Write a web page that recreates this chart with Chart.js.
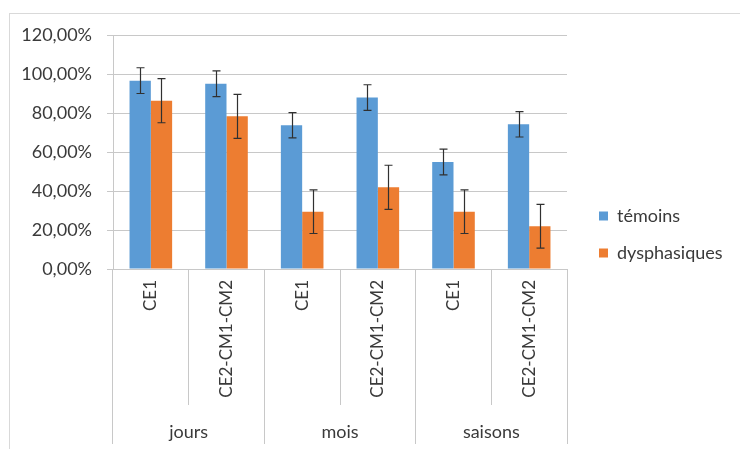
<!DOCTYPE html>
<html>
<head>
<meta charset="utf-8">
<script src="https://cdn.jsdelivr.net/npm/chart.js@4.4.1/dist/chart.umd.min.js"></script>
<style>
  html, body { margin: 0; padding: 0; background: #fff; }
  #wrap { position: relative; width: 741px; height: 449px; }
  #frame {
    position: absolute; left: 9px; top: 13px; right: 1px; bottom: 0;
    border-top: 1px solid #d9d9d9; border-left: 1px solid #d9d9d9;
  }
  canvas { position: absolute; left: 0; top: 0; }
</style>
</head>
<body>
<div id="wrap">
  <div id="frame"></div>
  <canvas id="chart" width="741" height="449"></canvas>
</div>
<script>
// niveaux (ligne 1 de l'axe) et groupes (ligne 2)
const niveaux = ["CE1", "CE2-CM1-CM2", "CE1", "CE2-CM1-CM2", "CE1", "CE2-CM1-CM2"];
const groupes = ["jours", "mois", "saisons"];

// valeurs en %
const temoins = [96.6, 95.0, 73.7, 87.9, 54.9, 74.2];
const temoinsErr = [6.6, 6.6, 6.5, 6.6, 6.6, 6.5];
const dysphasiques = [86.3, 78.3, 29.4, 41.9, 29.4, 21.9];
const dysphasiquesErr = [11.3, 11.3, 11.2, 11.3, 11.2, 11.2];

const TXT = "#3a3a3a";
const GRID = "#c8c8c8";
const FONT = "Lato";

const errBars = {
  id: "errBars",
  afterDatasetsDraw(chart) {
    const { ctx } = chart;
    const y = chart.scales.y;
    chart.data.datasets.forEach((ds, i) => {
      const meta = chart.getDatasetMeta(i);
      if (meta.hidden) return;
      meta.data.forEach((bar, j) => {
        const v = ds.data[j];
        const e = ds.err[j];
        const x = Math.round(bar.x) + 0.5;
        const top = y.getPixelForValue(v + e);
        const bot = y.getPixelForValue(v - e);
        ctx.save();
        ctx.strokeStyle = "#303030";
        ctx.lineWidth = 1.2;
        ctx.beginPath();
        ctx.moveTo(x, top); ctx.lineTo(x, bot);
        ctx.moveTo(x - 4, top); ctx.lineTo(x + 4, top);
        ctx.moveTo(x - 4, bot); ctx.lineTo(x + 4, bot);
        ctx.stroke();
        ctx.restore();
      });
    });
  }
};

new Chart(document.getElementById("chart"), {
  type: "bar",
  data: {
    labels: niveaux,
    datasets: [
      { label: "témoins", data: temoins, err: temoinsErr, backgroundColor: "#5b9bd5" },
      { label: "dysphasiques", data: dysphasiques, err: dysphasiquesErr, backgroundColor: "#ed7d31" }
    ]
  },
  options: {
    responsive: false,
    animation: false,
    devicePixelRatio: 1,
    datasets: { bar: { categoryPercentage: 0.563, barPercentage: 1 } },
    layout: { padding: { top: 35, bottom: 5, left: 0, right: 11 } },
    plugins: {
      tooltip: { enabled: false },
      legend: {
        position: "right",
        align: "start",
        maxWidth: 150,
        title: { display: true, text: " ", font: { size: 10 }, padding: { top: 0, bottom: 141 } },
        labels: {
          boxWidth: 9, boxHeight: 9, padding: 19,
          color: TXT, font: { family: FONT, size: 18 }
        }
      }
    },
    scales: {
      y: {
        min: 0, max: 120,
        ticks: {
          stepSize: 20, padding: 15, color: TXT,
          font: { family: FONT, size: 18 },
          callback: (v) => v.toFixed(2).replace(".", ",") + "%"
        },
        grid: { color: GRID, tickLength: 6 },
        border: { color: GRID },
        afterFit: (s) => { s.width = 113; }
      },
      x: {
        grid: { offset: true, drawOnChartArea: false, tickLength: 136, color: GRID },
        border: { color: GRID },
        ticks: {
          autoSkip: false, minRotation: 90, maxRotation: 90, padding: -125,
          color: TXT, font: { family: FONT, size: 17 }
        },
        afterFit: (s) => { s.height = 136; }
      },
      x2: {
        type: "category",
        position: "bottom",
        labels: groupes,
        grid: { offset: true, drawOnChartArea: false, tickLength: 39, color: GRID },
        border: { display: false },
        ticks: { padding: -23, color: TXT, font: { family: FONT, size: 18 } },
        afterFit: (s) => { s.height = 39; }
      },
      yR: {
        type: "linear",
        position: "right",
        display: false,
        afterFit: (s) => { s.width = 13; }
      }
    }
  },
  plugins: [errBars]
});
</script>
</body>
</html>
